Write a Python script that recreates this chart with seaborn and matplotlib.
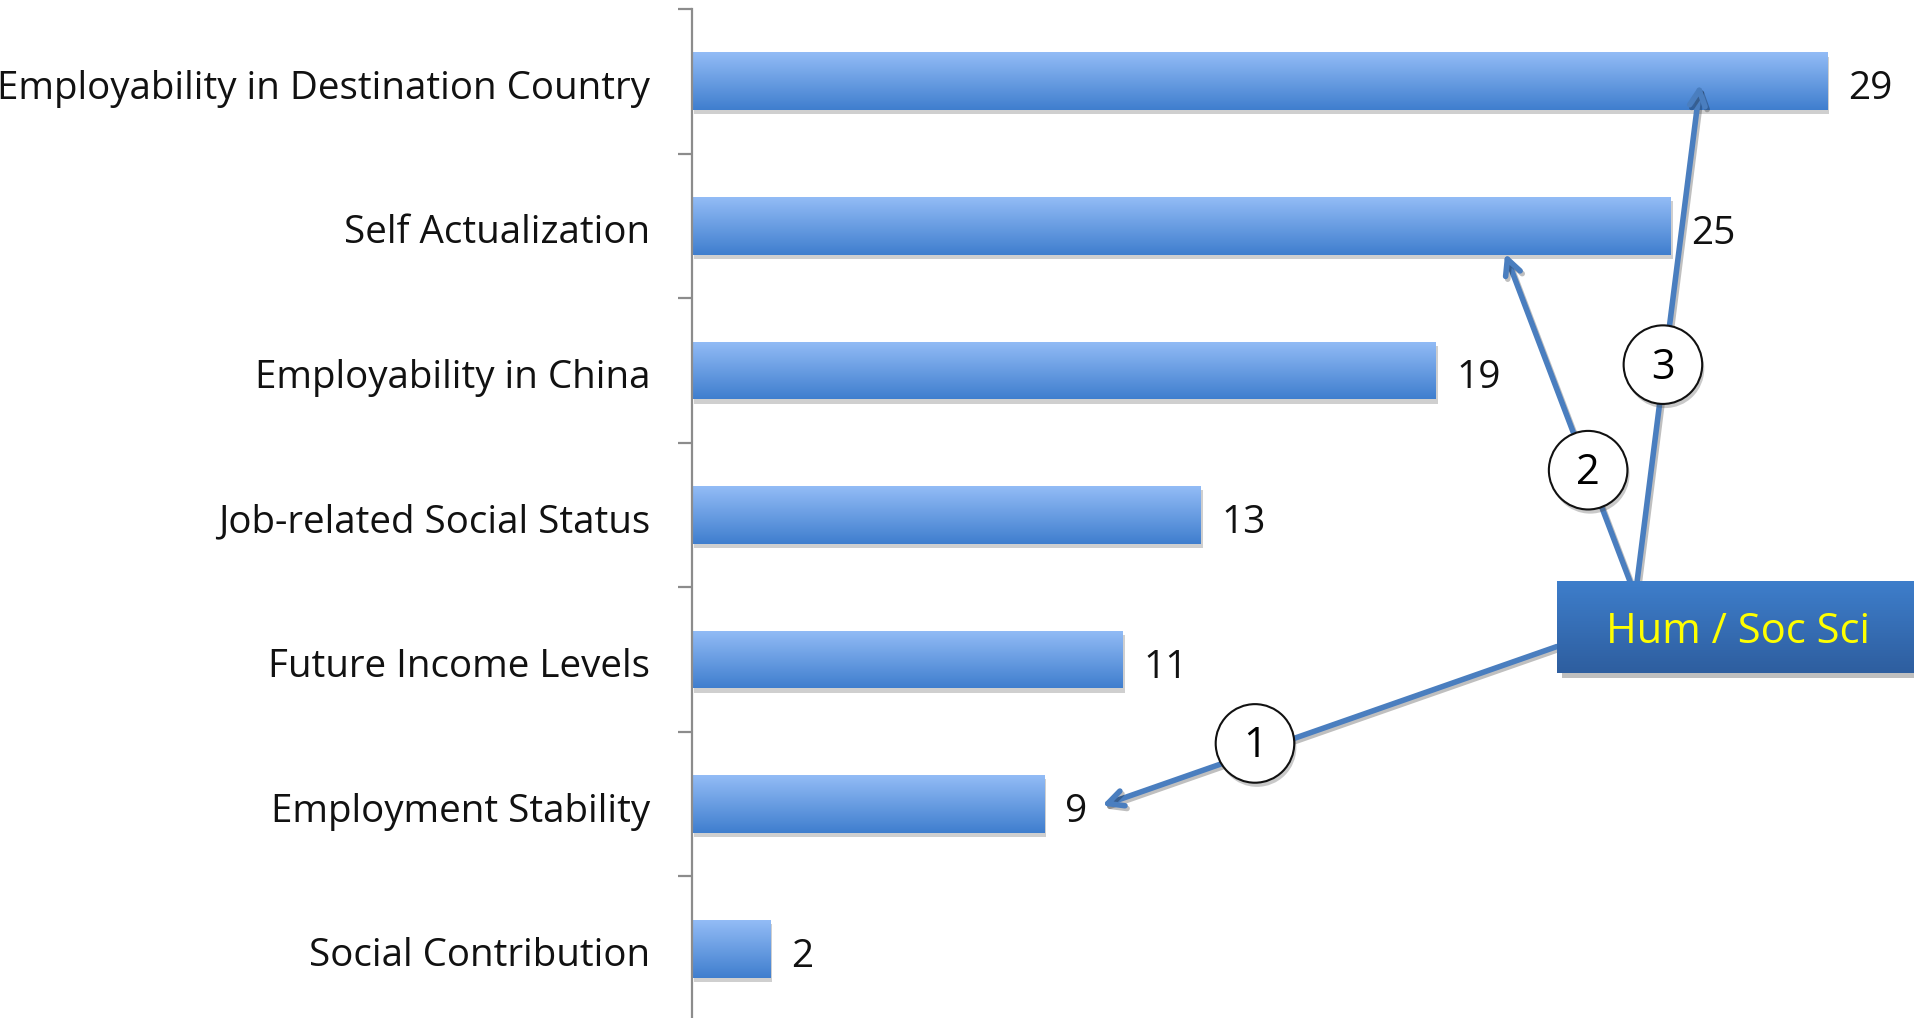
import numpy as np
import matplotlib
matplotlib.use("Agg")
import matplotlib.pyplot as plt
import seaborn as sns
import pandas as pd
from matplotlib import patheffects as pe
from matplotlib import transforms
from matplotlib.patches import Rectangle
from matplotlib.colors import LinearSegmentedColormap

# --- data -------------------------------------------------------------
categories = [
    "Employability in Destination Country",
    "Self Actualization",
    "Employability in China",
    "Job-related Social Status",
    "Future Income Levels",
    "Employment Stability",
    "Social Contribution",
]
values = [29, 25, 19, 13, 11, 9, 2]

callout_label = "Hum / Soc Sci"
callout_numbers = ["1", "2", "3"]

df = pd.DataFrame({"category": categories, "value": values})

# --- style ------------------------------------------------------------
sns.set_style("white")
plt.rcParams["font.family"] = ["Open Sans", "DejaVu Sans"]

W, H = 1915, 1018
fig = plt.figure(figsize=(W / 100, H / 100), dpi=100)
x0 = 692
unit = 39.15
ax = fig.add_axes([x0 / W, -3 / H, (W - x0) / W, 1012 / H])

sns.barplot(data=df, x="value", y="category", orient="h", width=0.4,
            color="#6A9FE4", ax=ax, zorder=2)

ax.set_xlim(0, (W - x0) / unit)
ax.set_ylim(len(categories) - 0.5, -0.5)

# vertical gradient fill for every bar, with a soft drop shadow
bar_cmap = LinearSegmentedColormap.from_list("bar", ["#93BCF6", "#3F7ECE"])
grad = np.linspace(0, 1, 256).reshape(-1, 1)
for p in ax.patches:
    x, y = p.get_x(), p.get_y()
    w, h = p.get_width(), p.get_height()
    p.set_edgecolor("none")
    p.set_path_effects([pe.SimplePatchShadow(offset=(1.5, -3), shadow_rgbFace="#777777", alpha=0.35),
                        pe.Normal()])
    im = ax.imshow(grad, cmap=bar_cmap, aspect="auto", extent=(x, x + w, y + h, y),
                   origin="upper", zorder=2.5, interpolation="bicubic")
    im.set_clip_path(p)

ax.set_xlim(0, (W - x0) / unit)
ax.set_ylim(len(categories) - 0.5, -0.5)

# shift texts a few pixels down so glyphs sit centred on the bars
down = transforms.offset_copy(ax.transData, fig=fig, x=0, y=-3, units="dots")
down_more = transforms.offset_copy(ax.transData, fig=fig, x=0, y=-8, units="dots")

# value labels
for i, v in enumerate(values):
    ax.text(v + 0.52, i, str(v), va="center", ha="left", fontsize=28,
            color="#111111", transform=down_more)

# axes styling
sns.despine(ax=ax, left=False, bottom=True, top=True, right=True)
ax.spines["left"].set_color("#8C8C8C")
ax.spines["left"].set_linewidth(1.6)
ax.set_xticks([])
ax.set_xlabel("")
ax.set_ylabel("")
ax.set_yticks(range(len(categories)))
ax.set_yticks(np.arange(-0.5, len(categories), 1.0), minor=True)
ax.tick_params(axis="y", which="major", length=0, pad=30, labelsize=27.7, labelcolor="#111111")
ax.tick_params(axis="y", which="minor", length=10, width=1.6, color="#8C8C8C", left=True)
for lbl in ax.get_yticklabels():
    lbl.set_transform(lbl.get_transform() + transforms.ScaledTranslation(0, -3 / 100, fig.dpi_scale_trans))

# --- call-out box and arrows -------------------------------------------
arrow_color = "#4A7EBF"
arrows = [
    ((22.09, 3.91), (10.47, 5.01)),
    ((23.96, 3.46), (20.77, 1.19)),
    ((24.14, 3.46), (25.75, 0.02)),
]
for start, end in arrows:
    ax.annotate("", xy=end, xytext=start, zorder=4,
                arrowprops=dict(arrowstyle="->", color=arrow_color, lw=4,
                                mutation_scale=28, shrinkA=0, shrinkB=0,
                                path_effects=[pe.SimpleLineShadow(offset=(1.5, -2), alpha=0.25),
                                              pe.Normal()]))

box_x0, box_x1 = 22.09, 31.6
box_y0, box_y1 = 3.46, 4.09
shadow = Rectangle((box_x0 + 0.12, box_y0 + 0.035), box_x1 - box_x0, box_y1 - box_y0,
                   facecolor="#000000", alpha=0.25, edgecolor="none", zorder=5, clip_on=False)
ax.add_patch(shadow)
box = Rectangle((box_x0, box_y0), box_x1 - box_x0, box_y1 - box_y0,
                facecolor="#3670B6", edgecolor="none", zorder=6, clip_on=False)
ax.add_patch(box)
box_cmap = LinearSegmentedColormap.from_list("box", ["#3E7ECB", "#2E5E9F"])
bim = ax.imshow(grad, cmap=box_cmap, aspect="auto", extent=(box_x0, box_x1, box_y1, box_y0),
                origin="upper", zorder=6.5, interpolation="bicubic", clip_on=False)
bim.set_clip_path(box)
ax.text(26.72, 3.79, callout_label, ha="center", va="center", fontsize=30,
        color="#FFFF00", zorder=7, transform=down)

circle_pos = [(14.38, 4.58), (22.89, 2.69), (24.80, 1.96)]
for (cx, cy), label in zip(circle_pos, callout_numbers):
    ax.scatter([cx], [cy], s=3200, facecolor="white", edgecolor="#111111", linewidth=1.5,
               zorder=8,
               path_effects=[pe.SimplePatchShadow(offset=(1.5, -3), alpha=0.3), pe.Normal()])
    ax.text(cx, cy, label, ha="center", va="center", fontsize=30, color="#000000", zorder=9,
            transform=down)

ax.set_xlim(0, (W - x0) / unit)
ax.set_ylim(len(categories) - 0.5, -0.5)

fig.savefig("out.png", dpi=100)
